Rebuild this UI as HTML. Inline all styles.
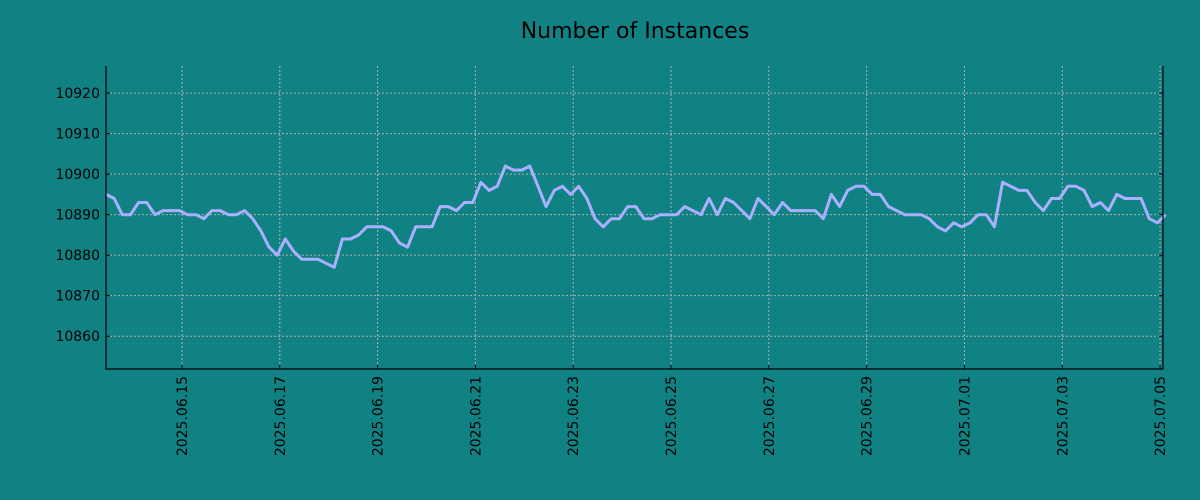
<!DOCTYPE html>
<html><head><meta charset="utf-8"><style>
body{margin:0;background:#108284;}
svg{display:block;font-family:"DejaVu Sans","Liberation Sans",sans-serif;}
</style></head><body>
<svg id="chart" width="1200" height="500">
<rect width="1200" height="500" fill="#108284"/>
<text x="635" y="38" font-size="22" text-anchor="middle" fill="#000">Number of Instances</text>
<g id="grid"></g><g id="series"></g><g id="axes"></g>
</svg>
<script>
const values=[10895,10894,10890,10890,10893,10893,10890,10891,10891,10891,
10890,10890,10889,10891,10891,10890,10890,10891,10889,10886,
10882,10880,10884,10881,10879,10879,10879,10878,10877,10884,
10884,10885,10887,10887,10887,10886,10883,10882,10887,10887,
10887,10892,10892,10891,10893,10893,10898,10896,10897,10902,
10901,10901,10902,10897,10892,10896,10897,10895,10897,10894,
10889,10887,10889,10889,10892,10892,10889,10889,10890,10890,
10890,10892,10891,10890,10894,10890,10894,10893,10891,10889,
10894,10892,10890,10893,10891,10891,10891,10891,10889,10895,
10892,10896,10897,10897,10895,10895,10892,10891,10890,10890,
10890,10889,10887,10886,10888,10887,10888,10890,10890,10887,
10898,10897,10896,10896,10893,10891,10894,10894,10897,10897,
10896,10892,10893,10891,10895,10894,10894,10894,10889,10888,10890];
const yTicks=[10860,10870,10880,10890,10900,10910,10920];
const xTickDays=[2,4,6,8,10,12,14,16,18,20,22];
const xTickLabels=["2025.06.15","2025.06.17","2025.06.19","2025.06.21","2025.06.23","2025.06.25","2025.06.27","2025.06.29","2025.07.01","2025.07.03","2025.07.05"];
const startDay=0.446, stepDay=1/6;
const L=106,R=1163,T=66,B=369;
const xMin=0.446,xMax=22.06,yMin=10851.9,yMax=10926.7;
const X=d=>L+(d-xMin)/(xMax-xMin)*(R-L);
const Y=v=>B-(v-yMin)/(yMax-yMin)*(B-T);
const NS="http://www.w3.org/2000/svg";
function mk(t,a,p){const e=document.createElementNS(NS,t);for(const k in a)e.setAttribute(k,a[k]);p.appendChild(e);return e;}
const grid=document.getElementById('grid'),axes=document.getElementById('axes'),series=document.getElementById('series');
yTicks.forEach(v=>{const y=Y(v);
const g=mk('line',{x1:L,x2:R,y1:y,y2:y,stroke:'#b0b0b0','stroke-dasharray':'2,2','stroke-width':1},grid);


const t1=mk('line',{x1:L,x2:L+4,y1:y,y2:y,stroke:'#000'},axes);


const t2=mk('line',{x1:R-4,x2:R,y1:y,y2:y,stroke:'#000'},axes);


const lb=mk('text',{x:L-6,y:y+5,'font-size':14,'text-anchor':'end',fill:'#000'},axes);lb.textContent=v;


});
xTickDays.forEach((d,i)=>{const x=X(d);
const g=mk('line',{x1:x,x2:x,y1:T,y2:B,stroke:'#b0b0b0','stroke-dasharray':'2,2','stroke-width':1},grid);


const t=mk('line',{x1:x,x2:x,y1:B-4,y2:B,stroke:'#000'},axes);


const lb=mk('text',{x:0,y:0,'font-size':14,'text-anchor':'end',fill:'#000',transform:`translate(${x+5},${B+7}) rotate(-90)`},axes);lb.textContent=xTickLabels[i];


});
const fr=mk('path',{d:`M${L},${T}V${B}H${R}V${T}`,fill:'none',stroke:'#000','stroke-width':1.2},axes);


const pts=values.map((v,i)=>X(startDay+i*stepDay).toFixed(1)+','+Y(v).toFixed(1)).join(' ');
const pl=mk('polyline',{points:pts,fill:'none',stroke:'#aab0ff','stroke-width':3,'stroke-linejoin':'round'},series);


</script>
</body></html>
